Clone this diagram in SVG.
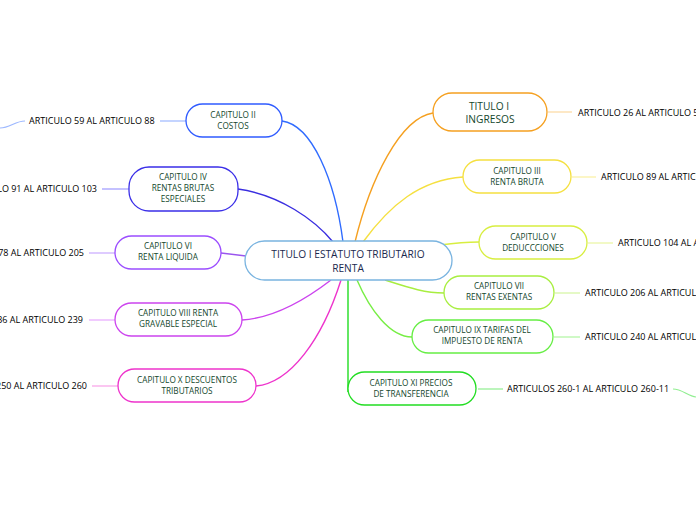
<svg xmlns="http://www.w3.org/2000/svg" width="696" height="520" viewBox="0 0 696 520">
<style>
.n{fill:#fff;stroke-width:1.3}
.t{font-family:"Open Sans","DejaVu Sans",sans-serif;font-size:8.2px;fill:#14472d;text-anchor:middle}
.c{font-family:"Open Sans","DejaVu Sans",sans-serif;font-size:10.2px;fill:#1b2a4e;text-anchor:middle}
.a{font-family:"Open Sans","DejaVu Sans",sans-serif;font-size:9px;fill:#000}
.l{fill:none;stroke-width:1.4}
.s{fill:none;stroke-width:1.2}
</style>
<rect width="696" height="520" fill="#fff"/>
<g id="connectors">
<path class="l" stroke="#2f6bff" d="M282,121 C312,125 335,180 343,242"/>
<path class="l" stroke="#3a2ee0" d="M238,189 C280,195 315,220 333,242"/>
<path class="l" stroke="#9a55ee" d="M221,253 L246,256"/>
<path class="l" stroke="#cc44ee" d="M331,280 C305,300 275,318 242,320"/>
<path class="l" stroke="#ee33cc" d="M341,280 C322,340 290,383 256,386"/>
<path class="l" stroke="#f5a020" d="M355,242 C370,180 400,118 433,113"/>
<path class="l" stroke="#f5e040" d="M363,242 C390,205 420,180 463,177"/>
<path class="l" stroke="#d8ee40" d="M440,245 C455,243 465,242 479,242"/>
<path class="l" stroke="#a8ee40" d="M385,280 C410,288 425,293 444,293"/>
<path class="l" stroke="#77ee44" d="M357,280 C370,310 390,337 412,337"/>
<path class="l" stroke="#22dd22" d="M348,280 L348,392"/>
<path class="s" stroke="#9db8ff" d="M160,121 L186,121"/>
<path class="s" stroke="#9d98ff" d="M102,189 L129,189"/>
<path class="s" stroke="#c9a8ff" d="M89,253 L115,253"/>
<path class="s" stroke="#e8a8ff" d="M89,320 L115,320"/>
<path class="s" stroke="#f8a0e8" d="M92,386 L118,386"/>
<path class="s" stroke="#fcd8a0" d="M548,112 L572,112"/>
<path class="s" stroke="#faf0a0" d="M572,177 L596,177"/>
<path class="s" stroke="#eaf6a0" d="M588,243 L613,243"/>
<path class="s" stroke="#d4f6a0" d="M555,293 L580,293"/>
<path class="s" stroke="#b0f6a0" d="M554,337 L580,337"/>
<path class="s" stroke="#90ee90" d="M478,389 L503,389"/>
<path class="s" stroke="#9db8ff" d="M0,128 C10,128 15,121 25,121"/>
<path class="s" stroke="#90ee90" d="M673,389 C682,389 688,396 696,397"/>
</g>
<g id="center">
<rect class="n" x="245" y="241" width="207" height="39" rx="19.5" stroke="#7ab4e0"/>
<text class="c" x="348" y="258">TITULO I ESTATUTO TRIBUTARIO</text>
<text class="c" x="348" y="272">RENTA</text>
</g>
<g id="cap2">
<rect class="n" x="186" y="104" width="96" height="33" rx="16.5" stroke="#2f5bff"/>
<text class="t" x="233" y="118">CAPITULO II</text>
<text class="t" x="233" y="129">COSTOS</text>
</g>
<g id="art2"><text class="a" x="29" y="124">ARTICULO 59 AL ARTICULO 88</text></g>
<g id="cap4">
<rect class="n" x="129" y="167" width="109" height="44" rx="20" stroke="#3a2ee8"/>
<text class="t" x="183" y="180">CAPITULO IV</text>
<text class="t" x="183" y="191">RENTAS BRUTAS</text>
<text class="t" x="183" y="202">ESPECIALES</text>
</g>
<g id="art4"><text class="a" x="97" y="192" text-anchor="end">ARTICULO 91 AL ARTICULO 103</text></g>
<g id="cap6">
<rect class="n" x="115" y="236" width="106" height="33" rx="16.5" stroke="#9b4dff"/>
<text class="t" x="168" y="249">CAPITULO VI</text>
<text class="t" x="168" y="260">RENTA LIQUIDA</text>
</g>
<g id="art6"><text class="a" x="84" y="256" text-anchor="end">ARTICULO 178 AL ARTICULO 205</text></g>
<g id="cap8">
<rect class="n" x="115" y="303" width="127" height="33" rx="16.5" stroke="#cc44ee"/>
<text class="t" x="178" y="316">CAPITULO VIII RENTA</text>
<text class="t" x="178" y="327">GRAVABLE ESPECIAL</text>
</g>
<g id="art8"><text class="a" x="83" y="323" text-anchor="end">ARTICULO 236 AL ARTICULO 239</text></g>
<g id="cap10">
<rect class="n" x="118" y="369" width="138" height="33" rx="16.5" stroke="#ee33cc"/>
<text class="t" x="187" y="383">CAPITULO X DESCUENTOS</text>
<text class="t" x="187" y="394">TRIBUTARIOS</text>
</g>
<g id="art10"><text class="a" x="87" y="389" text-anchor="end">ARTICULO 250 AL ARTICULO 260</text></g>
<g id="tit1">
<rect class="n" x="433" y="93" width="114" height="38" rx="19" stroke="#f5a020"/>
<text class="c" x="489" y="110" style="fill:#14472d">TITULO I</text>
<text class="c" x="490" y="123" style="fill:#14472d">INGRESOS</text>
</g>
<g id="artt1"><text class="a" x="578" y="116">ARTICULO 26 AL ARTICULO 58</text></g>
<g id="cap3">
<rect class="n" x="463" y="160" width="108" height="33" rx="16.5" stroke="#f5e040"/>
<text class="t" x="517" y="174">CAPITULO III</text>
<text class="t" x="517" y="185">RENTA BRUTA</text>
</g>
<g id="art3"><text class="a" x="601" y="180">ARTICULO 89 AL ARTICULO 90</text></g>
<g id="cap5">
<rect class="n" x="479" y="226" width="108" height="33" rx="16.5" stroke="#d8ee40"/>
<text class="t" x="533" y="240">CAPITULO V</text>
<text class="t" x="533" y="251">DEDUCCCIONES</text>
</g>
<g id="art5"><text class="a" x="618" y="246">ARTICULO 104 AL ARTICULO 177</text></g>
<g id="cap7">
<rect class="n" x="444" y="276" width="110" height="33" rx="16.5" stroke="#a8ee40"/>
<text class="t" x="499" y="289">CAPITULO VII</text>
<text class="t" x="499" y="300">RENTAS EXENTAS</text>
</g>
<g id="art7"><text class="a" x="585" y="296">ARTICULO 206 AL ARTICULO 235</text></g>
<g id="cap9">
<rect class="n" x="412" y="320" width="141" height="33" rx="16.5" stroke="#66ee44"/>
<text class="t" x="482" y="333">CAPITULO IX TARIFAS DEL</text>
<text class="t" x="482" y="344">IMPUESTO DE RENTA</text>
</g>
<g id="art9"><text class="a" x="585" y="340">ARTICULO 240 AL ARTICULO 249</text></g>
<g id="cap11">
<rect class="n" x="348" y="372" width="128" height="33" rx="16.5" stroke="#22dd22"/>
<text class="t" x="411" y="386">CAPITULO XI PRECIOS</text>
<text class="t" x="411" y="397">DE TRANSFERENCIA</text>
</g>
<g id="art11"><text class="a" x="507" y="392">ARTICULOS 260-1 AL ARTICULO 260-11</text></g>
</svg>
